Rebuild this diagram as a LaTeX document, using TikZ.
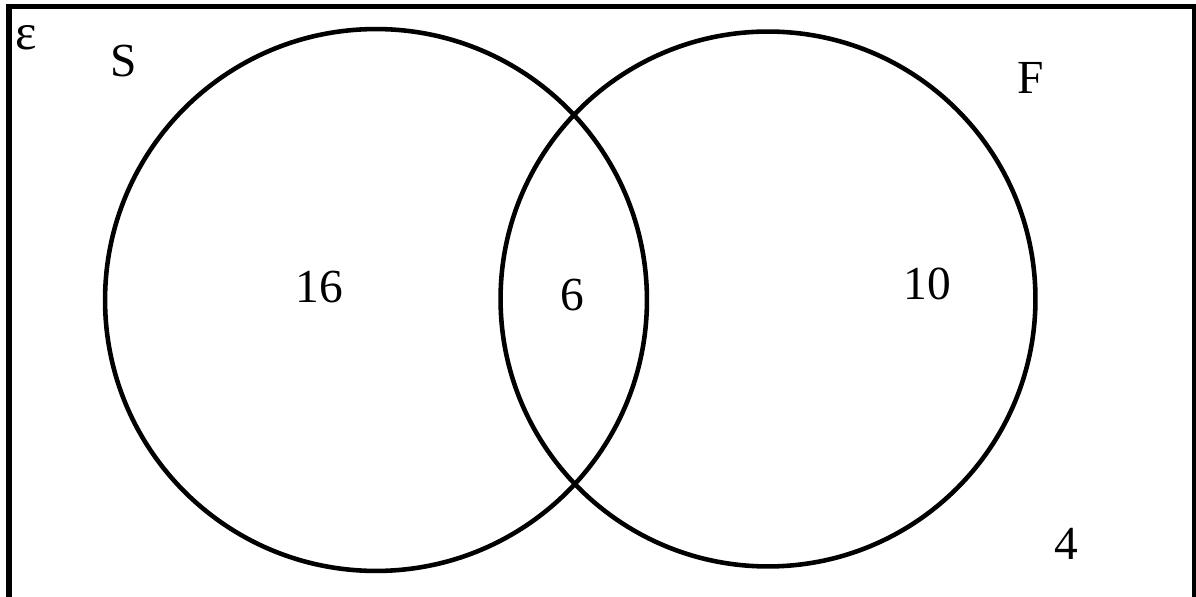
\documentclass[tikz,border=0pt]{standalone}
\usepackage{fontspec}
\setmainfont{Liberation Serif}
\usetikzlibrary{positioning}

\begin{document}
\begin{tikzpicture}[
  x=0.02cm, y=-0.02cm,
  setcirc/.style={draw, circle, line width=2.6pt, inner sep=0pt},
  lbl/.style={font=\fontsize{27}{32}\selectfont, inner sep=0pt}
]
\clip (0,0) rectangle (1196,597);
\useasboundingbox (0,0) rectangle (1196,597);
% universal set frame
\draw[line width=3.1pt] (9,640) -- (9,6.5) -- (1194.5,6.5) -- (1194.5,640);
\node[lbl, font=\fontsize{29}{34}\selectfont] (eps) at (26,38) {ε};
% the two sets
\node[setcirc, minimum size=10.84cm] (S) at (376,300) {};
\node[setcirc, minimum size=10.70cm] (F) at (768,299) {};
\node[lbl] (Slbl) at (124,61) {S};
\node[lbl] (Flbl) at (1031,78) {F};
% counts
\node[lbl] (nS) at (319,287) {16};
\node[lbl] (nSF) at (572,295) {6};
\node[lbl] (nF) at (927,284) {10};
\node[lbl] (nout) at (1066,544) {4};
\end{tikzpicture}
\end{document}
